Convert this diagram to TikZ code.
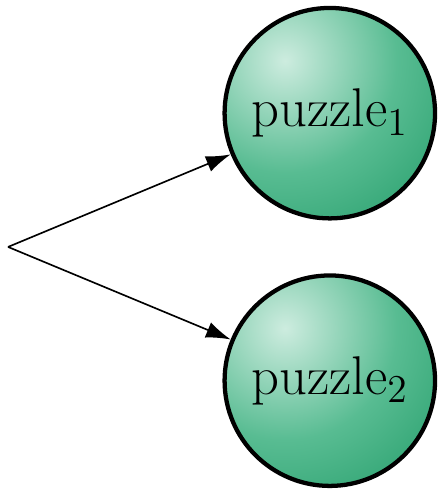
\documentclass[tikz,border=0pt]{standalone}
\usepackage{tikz}
\usetikzlibrary{arrows.meta}
\definecolor{puzlight}{RGB}{205,236,223}
\definecolor{puzmid}{RGB}{88,188,146}
\definecolor{puzdark}{RGB}{0,136,78}
\pgfdeclareradialshading{puzball}{\pgfpointorigin}{%
  color(0bp)=(puzlight); color(16bp)=(puzmid); color(42bp)=(puzdark); color(50bp)=(puzdark)}

\begin{document}
\begin{tikzpicture}[line width=0.5pt,
        puz/.style={circle,draw=black,line width=1.3pt,
          path picture={\shade[shading=puzball]
            ([shift={(-0.48,0.56)}]path picture bounding box.center) circle (1.87cm);},
          minimum size=2.25cm,inner sep=0pt,font=\fontsize{16.6}{20}\selectfont},
        arr/.style={-{Latex[length=7.5pt,width=5pt]}}]
      \useasboundingbox (-0.086,-2.62) rectangle (4.63,2.64);
      \coordinate (src) at (0,0);
      % the two puzzles
      \node[puz] (p1) at (3.44, 1.43) {puzzle$_1$};
      \node[puz] (p2) at (3.44,-1.43) {puzzle$_2$};
      \draw[arr] (src) -- (p1);
      \draw[arr] (src) -- (p2);
    \end{tikzpicture}
\end{document}
